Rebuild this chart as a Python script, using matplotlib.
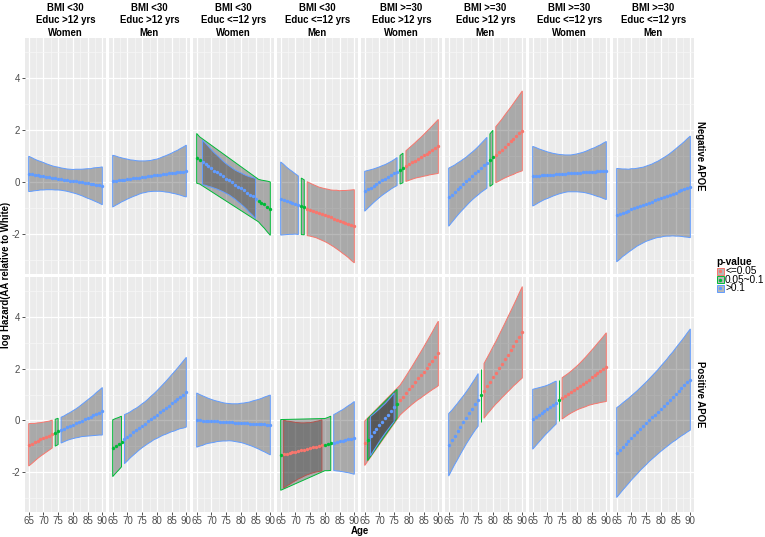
import numpy as np
import matplotlib
matplotlib.use("Agg")
import matplotlib.pyplot as plt
from matplotlib.patches import Polygon, Rectangle

plt.rcParams['font.family'] = ['Liberation Sans', 'DejaVu Sans']
plt.rcParams['axes.unicode_minus'] = False

ages = np.arange(65, 91)

col_titles = [
    ("BMI <30", "Educ >12 yrs", "Women"),
    ("BMI <30", "Educ >12 yrs", "Men"),
    ("BMI <30", "Educ <=12 yrs", "Women"),
    ("BMI <30", "Educ <=12 yrs", "Men"),
    ("BMI >=30", "Educ >12 yrs", "Women"),
    ("BMI >=30", "Educ >12 yrs", "Men"),
    ("BMI >=30", "Educ <=12 yrs", "Women"),
    ("BMI >=30", "Educ <=12 yrs", "Men"),
]
row_titles = ["Negative APOE", "Positive APOE"]

# log hazard estimate per age (65..90), one list per column
est_neg = [
    [0.31, 0.29, 0.27, 0.25, 0.24, 0.22, 0.20, 0.18, 0.16, 0.14, 0.13, 0.11, 0.09,
     0.07, 0.05, 0.03, 0.02, 0.00, -0.02, -0.04, -0.06, -0.08, -0.09, -0.11, -0.13, -0.15],
    [0.03, 0.05, 0.06, 0.08, 0.09, 0.11, 0.12, 0.14, 0.15, 0.17, 0.19, 0.20, 0.22,
     0.23, 0.25, 0.26, 0.28, 0.30, 0.31, 0.33, 0.34, 0.36, 0.37, 0.39, 0.40, 0.42],
    [0.91, 0.83, 0.75, 0.68, 0.60, 0.52, 0.44, 0.37, 0.29, 0.21, 0.13, 0.06, -0.02,
     -0.10, -0.18, -0.25, -0.33, -0.41, -0.49, -0.56, -0.64, -0.72, -0.80, -0.87, -0.95, -1.03],
    [-0.64, -0.68, -0.73, -0.77, -0.81, -0.85, -0.90, -0.94, -0.98, -1.03, -1.07, -1.11, -1.15,
     -1.20, -1.24, -1.28, -1.32, -1.37, -1.41, -1.45, -1.50, -1.54, -1.58, -1.62, -1.67, -1.71],
    [-0.36, -0.29, -0.22, -0.15, -0.08, -0.01, 0.06, 0.12, 0.19, 0.26, 0.33, 0.40, 0.47,
     0.54, 0.61, 0.68, 0.75, 0.82, 0.89, 0.95, 1.02, 1.09, 1.16, 1.23, 1.30, 1.37],
    [-0.59, -0.49, -0.39, -0.28, -0.18, -0.08, 0.02, 0.13, 0.23, 0.33, 0.43, 0.54, 0.64,
     0.74, 0.84, 0.95, 1.05, 1.15, 1.25, 1.36, 1.46, 1.56, 1.66, 1.77, 1.87, 1.97],
    [0.22, 0.23, 0.24, 0.25, 0.26, 0.26, 0.27, 0.28, 0.29, 0.30, 0.31, 0.32, 0.33,
     0.33, 0.34, 0.35, 0.36, 0.37, 0.38, 0.39, 0.40, 0.40, 0.41, 0.42, 0.43, 0.44],
    [-1.28, -1.24, -1.19, -1.15, -1.11, -1.06, -1.02, -0.97, -0.93, -0.89, -0.84, -0.80, -0.76,
     -0.71, -0.67, -0.63, -0.58, -0.54, -0.50, -0.45, -0.41, -0.36, -0.32, -0.28, -0.23, -0.19],
]
# half width of the confidence band per age
margin_neg = [
    [0.68, 0.65, 0.61, 0.58, 0.55, 0.53, 0.50, 0.48, 0.46, 0.45, 0.44, 0.43, 0.43,
     0.43, 0.44, 0.45, 0.47, 0.49, 0.51, 0.54, 0.57, 0.59, 0.63, 0.66, 0.69, 0.73],
    [1.00, 0.95, 0.90, 0.85, 0.81, 0.77, 0.73, 0.70, 0.67, 0.64, 0.62, 0.61, 0.60,
     0.60, 0.61, 0.62, 0.64, 0.67, 0.70, 0.73, 0.77, 0.81, 0.85, 0.90, 0.95, 1.00],
    [0.96, 0.91, 0.86, 0.81, 0.77, 0.72, 0.68, 0.65, 0.62, 0.59, 0.57, 0.56, 0.56,
     0.56, 0.58, 0.60, 0.62, 0.65, 0.69, 0.73, 0.77, 0.82, 0.87, 0.92, 0.98, 1.03],
    [1.41, 1.36, 1.30, 1.25, 1.21, 1.16, 1.13, 1.09, 1.06, 1.04, 1.02, 1.01, 1.00,
     1.00, 1.01, 1.02, 1.04, 1.06, 1.09, 1.13, 1.16, 1.21, 1.25, 1.30, 1.36, 1.41],
    [0.77, 0.73, 0.69, 0.65, 0.62, 0.59, 0.57, 0.55, 0.54, 0.53, 0.53, 0.54, 0.55,
     0.57, 0.59, 0.62, 0.65, 0.68, 0.72, 0.76, 0.80, 0.85, 0.89, 0.94, 0.99, 1.04],
    [1.12, 1.08, 1.04, 1.01, 0.98, 0.96, 0.94, 0.93, 0.92, 0.92, 0.93, 0.94, 0.96,
     0.98, 1.01, 1.04, 1.08, 1.12, 1.16, 1.21, 1.26, 1.31, 1.37, 1.42, 1.48, 1.54],
    [1.15, 1.10, 1.04, 0.99, 0.94, 0.90, 0.86, 0.82, 0.79, 0.76, 0.74, 0.72, 0.71,
     0.71, 0.72, 0.73, 0.75, 0.77, 0.80, 0.84, 0.88, 0.92, 0.97, 1.01, 1.07, 1.12],
    [1.80, 1.75, 1.69, 1.65, 1.60, 1.57, 1.53, 1.50, 1.48, 1.46, 1.45, 1.45, 1.45,
     1.46, 1.47, 1.50, 1.52, 1.55, 1.59, 1.63, 1.68, 1.73, 1.78, 1.84, 1.90, 1.96],
]
est_pos = [
    [-0.95, -0.90, -0.85, -0.79, -0.74, -0.69, -0.64, -0.59, -0.53, -0.48, -0.43, -0.38, -0.33,
     -0.27, -0.22, -0.17, -0.12, -0.07, -0.01, 0.04, 0.09, 0.14, 0.19, 0.25, 0.30, 0.35],
    [-1.08, -0.99, -0.91, -0.82, -0.73, -0.65, -0.56, -0.47, -0.39, -0.30, -0.21, -0.13, -0.04,
     0.05, 0.14, 0.22, 0.31, 0.40, 0.48, 0.57, 0.66, 0.74, 0.83, 0.92, 1.00, 1.09],
    [0.01, 0.00, -0.01, -0.01, -0.02, -0.03, -0.04, -0.04, -0.05, -0.06, -0.07, -0.07, -0.08,
     -0.09, -0.10, -0.10, -0.11, -0.12, -0.13, -0.13, -0.14, -0.15, -0.16, -0.16, -0.17, -0.18],
    [-1.34, -1.31, -1.29, -1.26, -1.23, -1.21, -1.18, -1.16, -1.13, -1.10, -1.08, -1.05, -1.02,
     -1.00, -0.97, -0.94, -0.92, -0.89, -0.86, -0.84, -0.81, -0.79, -0.76, -0.73, -0.71, -0.68],
    [-0.89, -0.75, -0.61, -0.47, -0.33, -0.19, -0.05, 0.08, 0.22, 0.36, 0.50, 0.64, 0.78,
     0.92, 1.06, 1.20, 1.34, 1.48, 1.62, 1.75, 1.89, 2.03, 2.17, 2.31, 2.45, 2.59],
    [-0.95, -0.78, -0.60, -0.43, -0.25, -0.08, 0.10, 0.27, 0.45, 0.62, 0.79, 0.97, 1.14,
     1.32, 1.49, 1.67, 1.84, 2.01, 2.19, 2.36, 2.54, 2.71, 2.89, 3.06, 3.24, 3.41],
    [0.04, 0.12, 0.20, 0.28, 0.36, 0.44, 0.52, 0.61, 0.69, 0.77, 0.85, 0.93, 1.01,
     1.09, 1.17, 1.25, 1.33, 1.41, 1.49, 1.58, 1.66, 1.74, 1.82, 1.90, 1.98, 2.06],
    [-1.25, -1.14, -1.02, -0.91, -0.80, -0.68, -0.57, -0.46, -0.34, -0.23, -0.12, 0.00, 0.11,
     0.22, 0.33, 0.45, 0.56, 0.67, 0.79, 0.90, 1.01, 1.13, 1.24, 1.35, 1.47, 1.58],
]
margin_pos = [
    [0.82, 0.78, 0.73, 0.69, 0.65, 0.62, 0.59, 0.56, 0.54, 0.52, 0.51, 0.50, 0.50,
     0.51, 0.52, 0.54, 0.56, 0.59, 0.62, 0.66, 0.70, 0.74, 0.78, 0.83, 0.87, 0.92],
    [1.10, 1.06, 1.02, 0.98, 0.95, 0.92, 0.89, 0.88, 0.86, 0.85, 0.85, 0.85, 0.86,
     0.88, 0.89, 0.92, 0.95, 0.98, 1.02, 1.06, 1.10, 1.15, 1.19, 1.24, 1.30, 1.35],
    [1.05, 1.00, 0.96, 0.91, 0.87, 0.84, 0.81, 0.78, 0.76, 0.74, 0.73, 0.72, 0.72,
     0.73, 0.74, 0.76, 0.78, 0.81, 0.84, 0.88, 0.92, 0.96, 1.01, 1.06, 1.11, 1.16],
    [1.37, 1.32, 1.26, 1.22, 1.17, 1.13, 1.09, 1.06, 1.03, 1.01, 0.99, 0.98, 0.98,
     0.98, 0.99, 1.01, 1.03, 1.05, 1.08, 1.12, 1.16, 1.20, 1.25, 1.30, 1.35, 1.41],
    [0.86, 0.81, 0.76, 0.71, 0.67, 0.63, 0.60, 0.57, 0.56, 0.55, 0.55, 0.56, 0.58,
     0.61, 0.65, 0.69, 0.73, 0.78, 0.83, 0.89, 0.94, 1.00, 1.06, 1.12, 1.19, 1.25],
    [1.21, 1.16, 1.12, 1.09, 1.06, 1.03, 1.01, 1.00, 1.00, 1.00, 1.02, 1.03, 1.06,
     1.09, 1.13, 1.17, 1.21, 1.27, 1.32, 1.38, 1.44, 1.50, 1.56, 1.63, 1.70, 1.77],
    [1.16, 1.11, 1.06, 1.01, 0.96, 0.92, 0.89, 0.86, 0.83, 0.81, 0.80, 0.80, 0.80,
     0.81, 0.83, 0.85, 0.88, 0.92, 0.96, 1.00, 1.05, 1.10, 1.16, 1.21, 1.27, 1.33],
    [1.74, 1.71, 1.69, 1.67, 1.65, 1.63, 1.62, 1.61, 1.60, 1.60, 1.60, 1.60, 1.61,
     1.62, 1.63, 1.65, 1.67, 1.69, 1.72, 1.74, 1.78, 1.81, 1.84, 1.88, 1.92, 1.96],
]

# p-value class per age: r <=0.05, g 0.05~0.1, b >0.1
p_neg = ["b" * 26, "b" * 26, "gg" + "b" * 19 + "g" * 5, "b" * 7 + "gg" + "r" * 17,
         "b" * 12 + "gg" + "r" * 12, "b" * 14 + "gg" + "r" * 10, "b" * 26, "b" * 26]
p_pos = ["r" * 9 + "gg" + "b" * 15, "g" * 4 + "b" * 22, "b" * 26, "g" + "r" * 14 + "ggg" + "b" * 8,
         "rg" + "b" * 9 + "g" + "r" * 14, "b" * 11 + "g" + "r" * 14, "b" * 9 + "g" + "r" * 16, "b" * 26]

levels = ["r", "g", "b"]
level_labels = {"r": "<=0.05", "g": "0.05~0.1", "b": ">0.1"}
colors = {"r": "#F8766D", "g": "#00BA38", "b": "#619CFF"}
ribbon_fill = (0, 0, 0, 0.28)

W, H = 765, 537
fig = plt.figure(figsize=(W / 100, H / 100), dpi=100)


def px_axes(left, top, width, height):
    return fig.add_axes([left / W, 1 - (top + height) / H, width / W, height / H])


lefts = [25 + 84 * i for i in range(8)]
tops = [38, 277]
heights = [236, 235]

rows = [(est_neg, margin_neg, p_neg), (est_pos, margin_pos, p_pos)]
for r, (ests, margins, pvals) in enumerate(rows):
    for c in range(8):
        ax = px_axes(lefts[c], tops[r], 81, heights[r])
        ax.set_facecolor('#EBEBEB')
        ax.set_xlim(63.75, 91.25)
        ax.set_ylim(-3.55, 5.55)
        for s in ax.spines.values():
            s.set_visible(False)
        ax.set_xticks([65, 70, 75, 80, 85, 90])
        ax.set_xticks([67.5, 72.5, 77.5, 82.5, 87.5], minor=True)
        ax.set_yticks([-2, 0, 2, 4])
        ax.set_yticks([-3, -1, 1, 3, 5], minor=True)
        ax.set_xticklabels(['65', '70', '75', '80', '85', '90'])
        ax.set_yticklabels(['-2', '0', '2', '4'])
        ax.grid(which='major', color='white', lw=0.9)
        ax.grid(which='minor', color='#F7F7F7', lw=0.5)
        ax.set_axisbelow(True)
        ax.tick_params(which='minor', length=0)
        ax.tick_params(which='major', length=2.0, width=0.6, color='#333333',
                       labelsize=7, labelcolor='#4D4D4D', pad=1.2)
        ax.tick_params(axis='y', pad=1.8)
        if c > 0:
            ax.tick_params(axis='y', left=False, labelleft=False)
        if r == 0:
            ax.tick_params(axis='x', bottom=False, labelbottom=False)

        est = np.array(ests[c])
        lo = est - np.array(margins[c])
        hi = est + np.array(margins[c])
        grp = np.array(list(pvals[c]))
        # one ribbon per p-value class, like ggplot's grouped geom_ribbon
        for g in levels:
            m = grp == g
            if not m.any():
                continue
            xs = ages[m]
            verts = list(zip(xs, hi[m])) + list(zip(xs[::-1], lo[m][::-1]))
            ax.add_patch(Polygon(verts, closed=True, facecolor=ribbon_fill,
                                 edgecolor=colors[g], lw=0.7, zorder=2))
        for g in levels:
            m = grp == g
            ax.scatter(ages[m], est[m], s=6, color=colors[g], linewidths=0, zorder=3)

# facet strips
for c in range(8):
    cx = (lefts[c] + 40.5) / W
    for line, base in zip(col_titles[c], [10.6, 23.3, 36.0]):
        fig.text(cx, 1 - base / H, line, ha='center', va='baseline',
                 fontsize=6.9, fontweight='bold')
for r in range(2):
    fig.text(700 / W, 1 - (tops[r] + heights[r] / 2) / H, row_titles[r], rotation=-90,
             ha='center', va='center', fontsize=6.9, fontweight='bold')

fig.text(5.6 / W, 1 - 275 / H, "log Hazard(AA relative to White)", rotation=90,
         ha='center', va='center', fontsize=6.9, fontweight='bold')
fig.text(359.5 / W, 1 - 530.5 / H, "Age", ha='center', va='center',
         fontsize=6.9, fontweight='bold')

# legend
lg = px_axes(712, 254, 53, 42)
lg.set_xlim(712, 765)
lg.set_ylim(296, 254)
lg.axis('off')
lg.text(716, 262, "p-value", ha='left', va='center', fontsize=7.3, fontweight='bold')
for i, g in enumerate(levels):
    yc = 271.5 + 8.5 * i
    lg.add_patch(Rectangle((716.5, yc - 3.5), 7, 7, facecolor=ribbon_fill,
                           edgecolor=colors[g], lw=0.7))
    lg.scatter([720], [yc], s=6, color=colors[g], linewidths=0)
    lg.text(725, yc, level_labels[g], ha='left', va='center', fontsize=7.3)

fig.savefig("out.png", dpi=100)
